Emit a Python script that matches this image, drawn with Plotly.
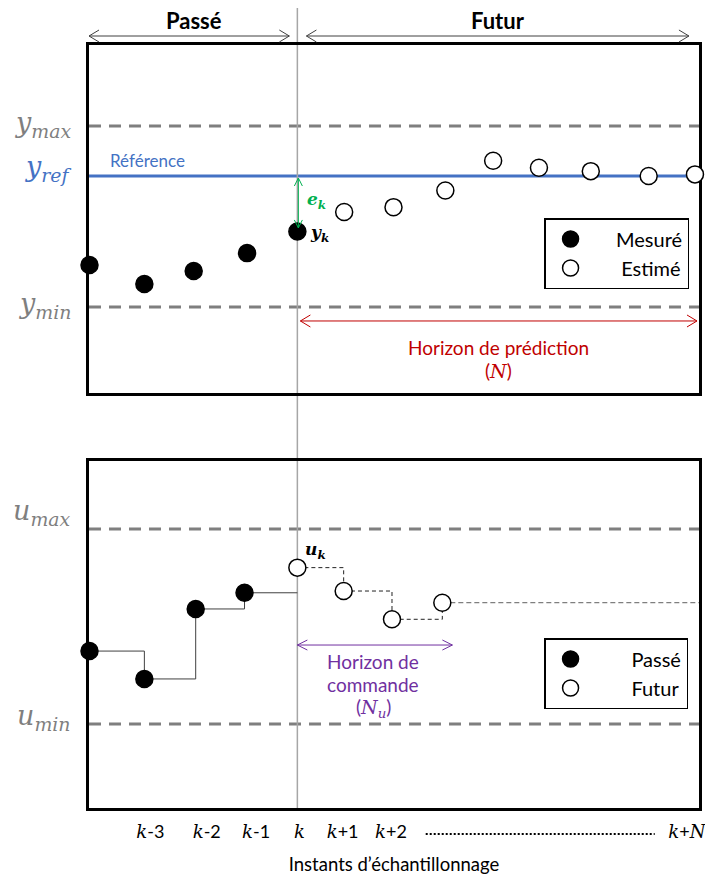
import plotly.graph_objects as go
from plotly.subplots import make_subplots

# ---------------- data ----------------
# time in sampling periods (k = 0)
x_range = [-4.14, 7.98]

# output y (normalised so that y_min = 0, y_max = 1)
t_meas = [-4.13, -3.04, -2.06, -1.00, 0.00]
y_meas = [0.232, 0.127, 0.199, 0.298, 0.417]
t_est = [0.93, 1.91, 2.94, 3.89, 4.80, 5.83, 6.98, 7.90]
y_est = [0.525, 0.552, 0.644, 0.808, 0.770, 0.751, 0.724, 0.733]
y_max, y_min, y_ref = 1.0, 0.0, 0.724
y_range = [-0.475, 1.448]

# command u (normalised so that u_min = 0, u_max = 1)
t_u_past = [-4.13, -3.04, -2.02, -1.05]
u_past = [0.374, 0.231, 0.590, 0.673]
t_u_fut = [0.00, 0.92, 1.88, 2.88]
u_fut = [0.802, 0.682, 0.537, 0.622]
u_max, u_min = 1.0, 0.0
u_range = [-0.431, 1.349]

tick_vals = [-2.92, -1.80, -0.82, 0.04, 0.90, 1.86, 7.74]
tick_labels = ["k-3", "k-2", "k-1", "k", "k+1", "k+2", "k+N"]

past_span = [-4.14, -0.16]
future_span = [0.18, 7.78]
pred_horizon = [0.06, 7.94]
ctrl_horizon = [0.0, 3.08]

# ---------------- styling ----------------
SANS = "Lato"
SERIF = "DejaVu Serif"
GRAY = "#7F7F7F"
BLUE = "#4472C4"
GREEN = "#00B050"
RED = "#C00000"
PURPLE = "#7030A0"

# page body has an 8px margin: size/margins compensate so the plot areas
# land at x 89..707, y 45..393 and 461..808 in the window
W, H = 705, 872
ML, MR, MT, MB = 81, 6, 37, 72
PLOT_H = H - MT - MB          # 763
top_dom = [0.5439, 1.0]
bot_dom = [0.0, 0.4548]


def serif(s, bold=False):
    t = f"<i>{s}</i>"
    if bold:
        t = f"<b>{t}</b>"
    return f"<span style=\"font-family:'{SERIF}'\">{t}</span>"


def fmt_tick(s):
    out = ""
    for ch in s:
        out += serif(ch) if ch in "kN" else ch
    return out


def xpaper(x):
    return (x - x_range[0]) / (x_range[1] - x_range[0])


def ypaper_px(py):
    # window pixel row -> paper fraction (plot area 45..808)
    return (808 - py) / PLOT_H


def pad(n):
    return "\u00a0" * n


fig = make_subplots(rows=2, cols=1)

# ---- top: outputs ----
fig.add_trace(go.Scatter(x=t_meas, y=y_meas, mode="markers", name=pad(4) + "Mesuré",
                         marker=dict(symbol="circle", size=17, color="black",
                                     line=dict(color="black", width=1.5)),
                         cliponaxis=False, legend="legend"), row=1, col=1)
fig.add_trace(go.Scatter(x=t_est, y=y_est, mode="markers", name=pad(5) + "Estimé",
                         marker=dict(symbol="circle", size=17, color="white",
                                     line=dict(color="black", width=1.5)),
                         cliponaxis=False, legend="legend"), row=1, col=1)

# ---- bottom: commands ----
fig.add_trace(go.Scatter(x=t_u_past + [t_u_fut[0]], y=u_past + [u_past[-1]],
                         mode="lines", line=dict(color="#404040", width=1, shape="hv"),
                         showlegend=False, hoverinfo="skip"), row=2, col=1)
fig.add_trace(go.Scatter(x=t_u_fut, y=u_fut, mode="lines",
                         line=dict(color="#222222", width=1, shape="hv", dash="4px,3px"),
                         showlegend=False, hoverinfo="skip"), row=2, col=1)
fig.add_trace(go.Scatter(x=[t_u_fut[-1], x_range[1]], y=[u_fut[-1], u_fut[-1]], mode="lines",
                         line=dict(color=GRAY, width=1.2, dash="5px,3px"),
                         showlegend=False, hoverinfo="skip"), row=2, col=1)
fig.add_trace(go.Scatter(x=t_u_past, y=u_past, mode="markers", name=pad(7) + "Passé",
                         marker=dict(symbol="circle", size=17, color="black",
                                     line=dict(color="black", width=1.5)),
                         cliponaxis=False, legend="legend2"), row=2, col=1)
fig.add_trace(go.Scatter(x=t_u_fut, y=u_fut, mode="markers", name=pad(7) + "Futur",
                         marker=dict(symbol="circle", size=17, color="white",
                                     line=dict(color="black", width=1.5)),
                         cliponaxis=False, legend="legend2"), row=2, col=1)

shapes = []
annotations = []

# horizontal reference levels
for yv, yr in [(y_max, "y"), (y_min, "y"), (u_max, "y2"), (u_min, "y2")]:
    shapes.append(dict(type="line", xref="x domain" if yr == "y" else "x2 domain", yref=yr,
                       x0=0, x1=1, y0=yv, y1=yv, layer="below",
                       line=dict(color=GRAY, width=3, dash="12px,8px")))
shapes.append(dict(type="line", xref="x domain", yref="y", x0=0, x1=1, y0=y_ref, y1=y_ref,
                   layer="below", line=dict(color=BLUE, width=3)))

# vertical line at instant k
shapes.append(dict(type="line", xref="paper", yref="paper", x0=xpaper(0), x1=xpaper(0),
                   y0=0, y1=ypaper_px(6), layer="below", line=dict(color="#A6A6A6", width=1.5)))


def chevron(x, y, xref, yref, direction, color, L=9, Hh=5, width=1):
    paths = {
        "right": f"M {-L},{Hh} L 0,0 L {-L},{-Hh}",
        "left": f"M {L},{Hh} L 0,0 L {L},{-Hh}",
        "up": f"M {-Hh},{-L} L 0,0 L {Hh},{-L}",
        "down": f"M {-Hh},{L} L 0,0 L {Hh},{L}",
    }
    return dict(type="path", xref=xref, yref=yref, xsizemode="pixel", ysizemode="pixel",
                xanchor=x, yanchor=y, path=paths[direction], layer="above",
                line=dict(color=color, width=width))


def harrow(x0, x1, y, xref, yref, color, L=9, Hh=5):
    shapes.append(dict(type="line", xref=xref, yref=yref, x0=x0, x1=x1, y0=y, y1=y,
                       layer="above", line=dict(color=color, width=1)))
    shapes.append(chevron(x0, y, xref, yref, "left", color, L, Hh))
    shapes.append(chevron(x1, y, xref, yref, "right", color, L, Hh))


# Passé / Futur arrows above the top panel
y_top_arrow = ypaper_px(36)
harrow(xpaper(past_span[0]), xpaper(past_span[1]), y_top_arrow, "paper", "paper", "#404040", 10, 6)
harrow(xpaper(future_span[0]), xpaper(future_span[1]), y_top_arrow, "paper", "paper", "#404040", 10, 6)
for txt, xc in [("<b>Passé</b>", sum(past_span) / 2 + 0.1), ("<b>Futur</b>", sum(future_span) / 2)]:
    annotations.append(dict(text=txt, xref="paper", yref="paper", x=xpaper(xc), y=ypaper_px(20),
                            xanchor="center", yanchor="middle", showarrow=False,
                            font=dict(family=SANS, size=22, color="black")))

# prediction horizon (red)
y_pred = -0.077
harrow(pred_horizon[0], pred_horizon[1], y_pred, "x", "y", RED, 10, 6)
annotations.append(dict(text="Horizon de prédiction", xref="x", yref="y",
                        x=sum(pred_horizon) / 2, y=-0.227, yshift=1,
                        showarrow=False, font=dict(family=SANS, size=19, color=RED)))
annotations.append(dict(text="(" + serif("N") + ")", xref="x", yref="y",
                        x=sum(pred_horizon) / 2, y=-0.354, yshift=1,
                        showarrow=False, font=dict(family=SANS, size=19, color=RED)))

# control horizon (purple)
u_ctrl = 0.405
harrow(ctrl_horizon[0], ctrl_horizon[1], u_ctrl, "x2", "y2", PURPLE, 10, 5)
for txt, uy in [("Horizon de", 0.318), ("commande", 0.200),
                ("(" + serif("N") + "<sub>" + serif("u") + "</sub>)", 0.082)]:
    annotations.append(dict(text=txt, xref="x2", yref="y2", x=sum(ctrl_horizon) / 2 - 0.03, y=uy,
                            showarrow=False, font=dict(family=SANS, size=19, color=PURPLE)))

# error e_k (green)
ek_x = 0.02
ek_lo, ek_hi = y_meas[-1] + 0.02, y_ref - 0.011
shapes.append(dict(type="line", xref="x", yref="y", x0=ek_x, x1=ek_x, y0=ek_lo, y1=ek_hi,
                   layer="above", line=dict(color=GREEN, width=1)))
shapes.append(chevron(ek_x, ek_hi, "x", "y", "up", GREEN, 8, 4))
shapes.append(chevron(ek_x, ek_lo, "x", "y", "down", GREEN, 8, 4))
annotations.append(dict(text="<b><i>e</i></b><sub><b><i>k</i></b></sub>", xref="x", yref="y",
                        x=0, y=(y_meas[-1] + y_ref) / 2 + 0.02, xanchor="left", xshift=8,
                        showarrow=False, font=dict(family=SERIF, size=17, color=GREEN)))
annotations.append(dict(text="<b><i>y</i></b><sub><b><i>k</i></b></sub>", xref="x", yref="y",
                        x=t_meas[-1], y=y_meas[-1], xanchor="left", xshift=11, yshift=-2,
                        showarrow=False, font=dict(family=SERIF, size=17, color="black")))
annotations.append(dict(text="<b><i>u</i></b><sub><b><i>k</i></b></sub>", xref="x2", yref="y2",
                        x=t_u_fut[0], y=u_fut[0], xanchor="left", xshift=6, yshift=17,
                        showarrow=False, font=dict(family=SERIF, size=17, color="black")))

# Référence label
annotations.append(dict(text="Référence", xref="x", yref="y", x=-3.77, y=y_ref,
                        xanchor="left", yshift=16, showarrow=False,
                        font=dict(family=SANS, size=17, color=BLUE)))

# left-side level labels
for txt, sub, yv, yr, col, ys in [("y", "max", y_max, "y", GRAY, 2),
                                  ("y", "ref", y_ref, "y", BLUE, 8),
                                  ("y", "min", y_min, "y", GRAY, 2),
                                  ("u", "max", u_max, "y2", GRAY, 17),
                                  ("u", "min", u_min, "y2", GRAY, 6)]:
    annotations.append(dict(text=f"<i>{txt}</i><sub><i>{sub}</i></sub>", xref="paper", yref=yr,
                            x=0, y=yv, xanchor="right", yanchor="middle", xshift=-16, yshift=ys,
                            showarrow=False, font=dict(family=SERIF, size=27, color=col)))

# dotted filler between k+2 and k+N
shapes.append(dict(type="line", xref="x2", yref="paper", x0=2.55, x1=7.1,
                   y0=ypaper_px(834), y1=ypaper_px(834),
                   line=dict(color="black", width=2, dash="2px,2px")))

legend_common = dict(xanchor="left", yanchor="top", bordercolor="black", borderwidth=1.5,
                     bgcolor="white", font=dict(family=SANS, size=20, color="black"),
                     itemsizing="trace", itemwidth=40)

fig.update_layout(
    width=W, height=H,
    margin=dict(l=ML, r=MR, t=MT, b=MB),
    paper_bgcolor="white", plot_bgcolor="rgba(0,0,0,0)",
    shapes=shapes, annotations=annotations,
    showlegend=True,
    legend=dict(x=0.746, y=ypaper_px(218), **legend_common),
    legend2=dict(x=0.746, y=ypaper_px(638), **legend_common),
    hovermode=False,
)

axis_common = dict(showgrid=False, zeroline=False, showline=True, mirror=True,
                   linecolor="black", linewidth=3, layer="below traces", ticks="")
fig.update_xaxes(range=x_range, **axis_common)
fig.update_xaxes(showticklabels=False, row=1, col=1)
fig.update_xaxes(tickvals=tick_vals, ticktext=[fmt_tick(s) for s in tick_labels],
                 tickfont=dict(family=SANS, size=18, color="black"), ticklabelstandoff=5,
                 ticklabeloverflow="allow",
                 title=dict(text="Instants d’échantillonnage", standoff=18,
                            font=dict(family=SANS, size=18.5, color="black")),
                 row=2, col=1)
fig.update_yaxes(showticklabels=False, **axis_common)
fig.update_yaxes(range=y_range, domain=top_dom, row=1, col=1)
fig.update_yaxes(range=u_range, domain=bot_dom, row=2, col=1)

fig.write_html("out.html")
